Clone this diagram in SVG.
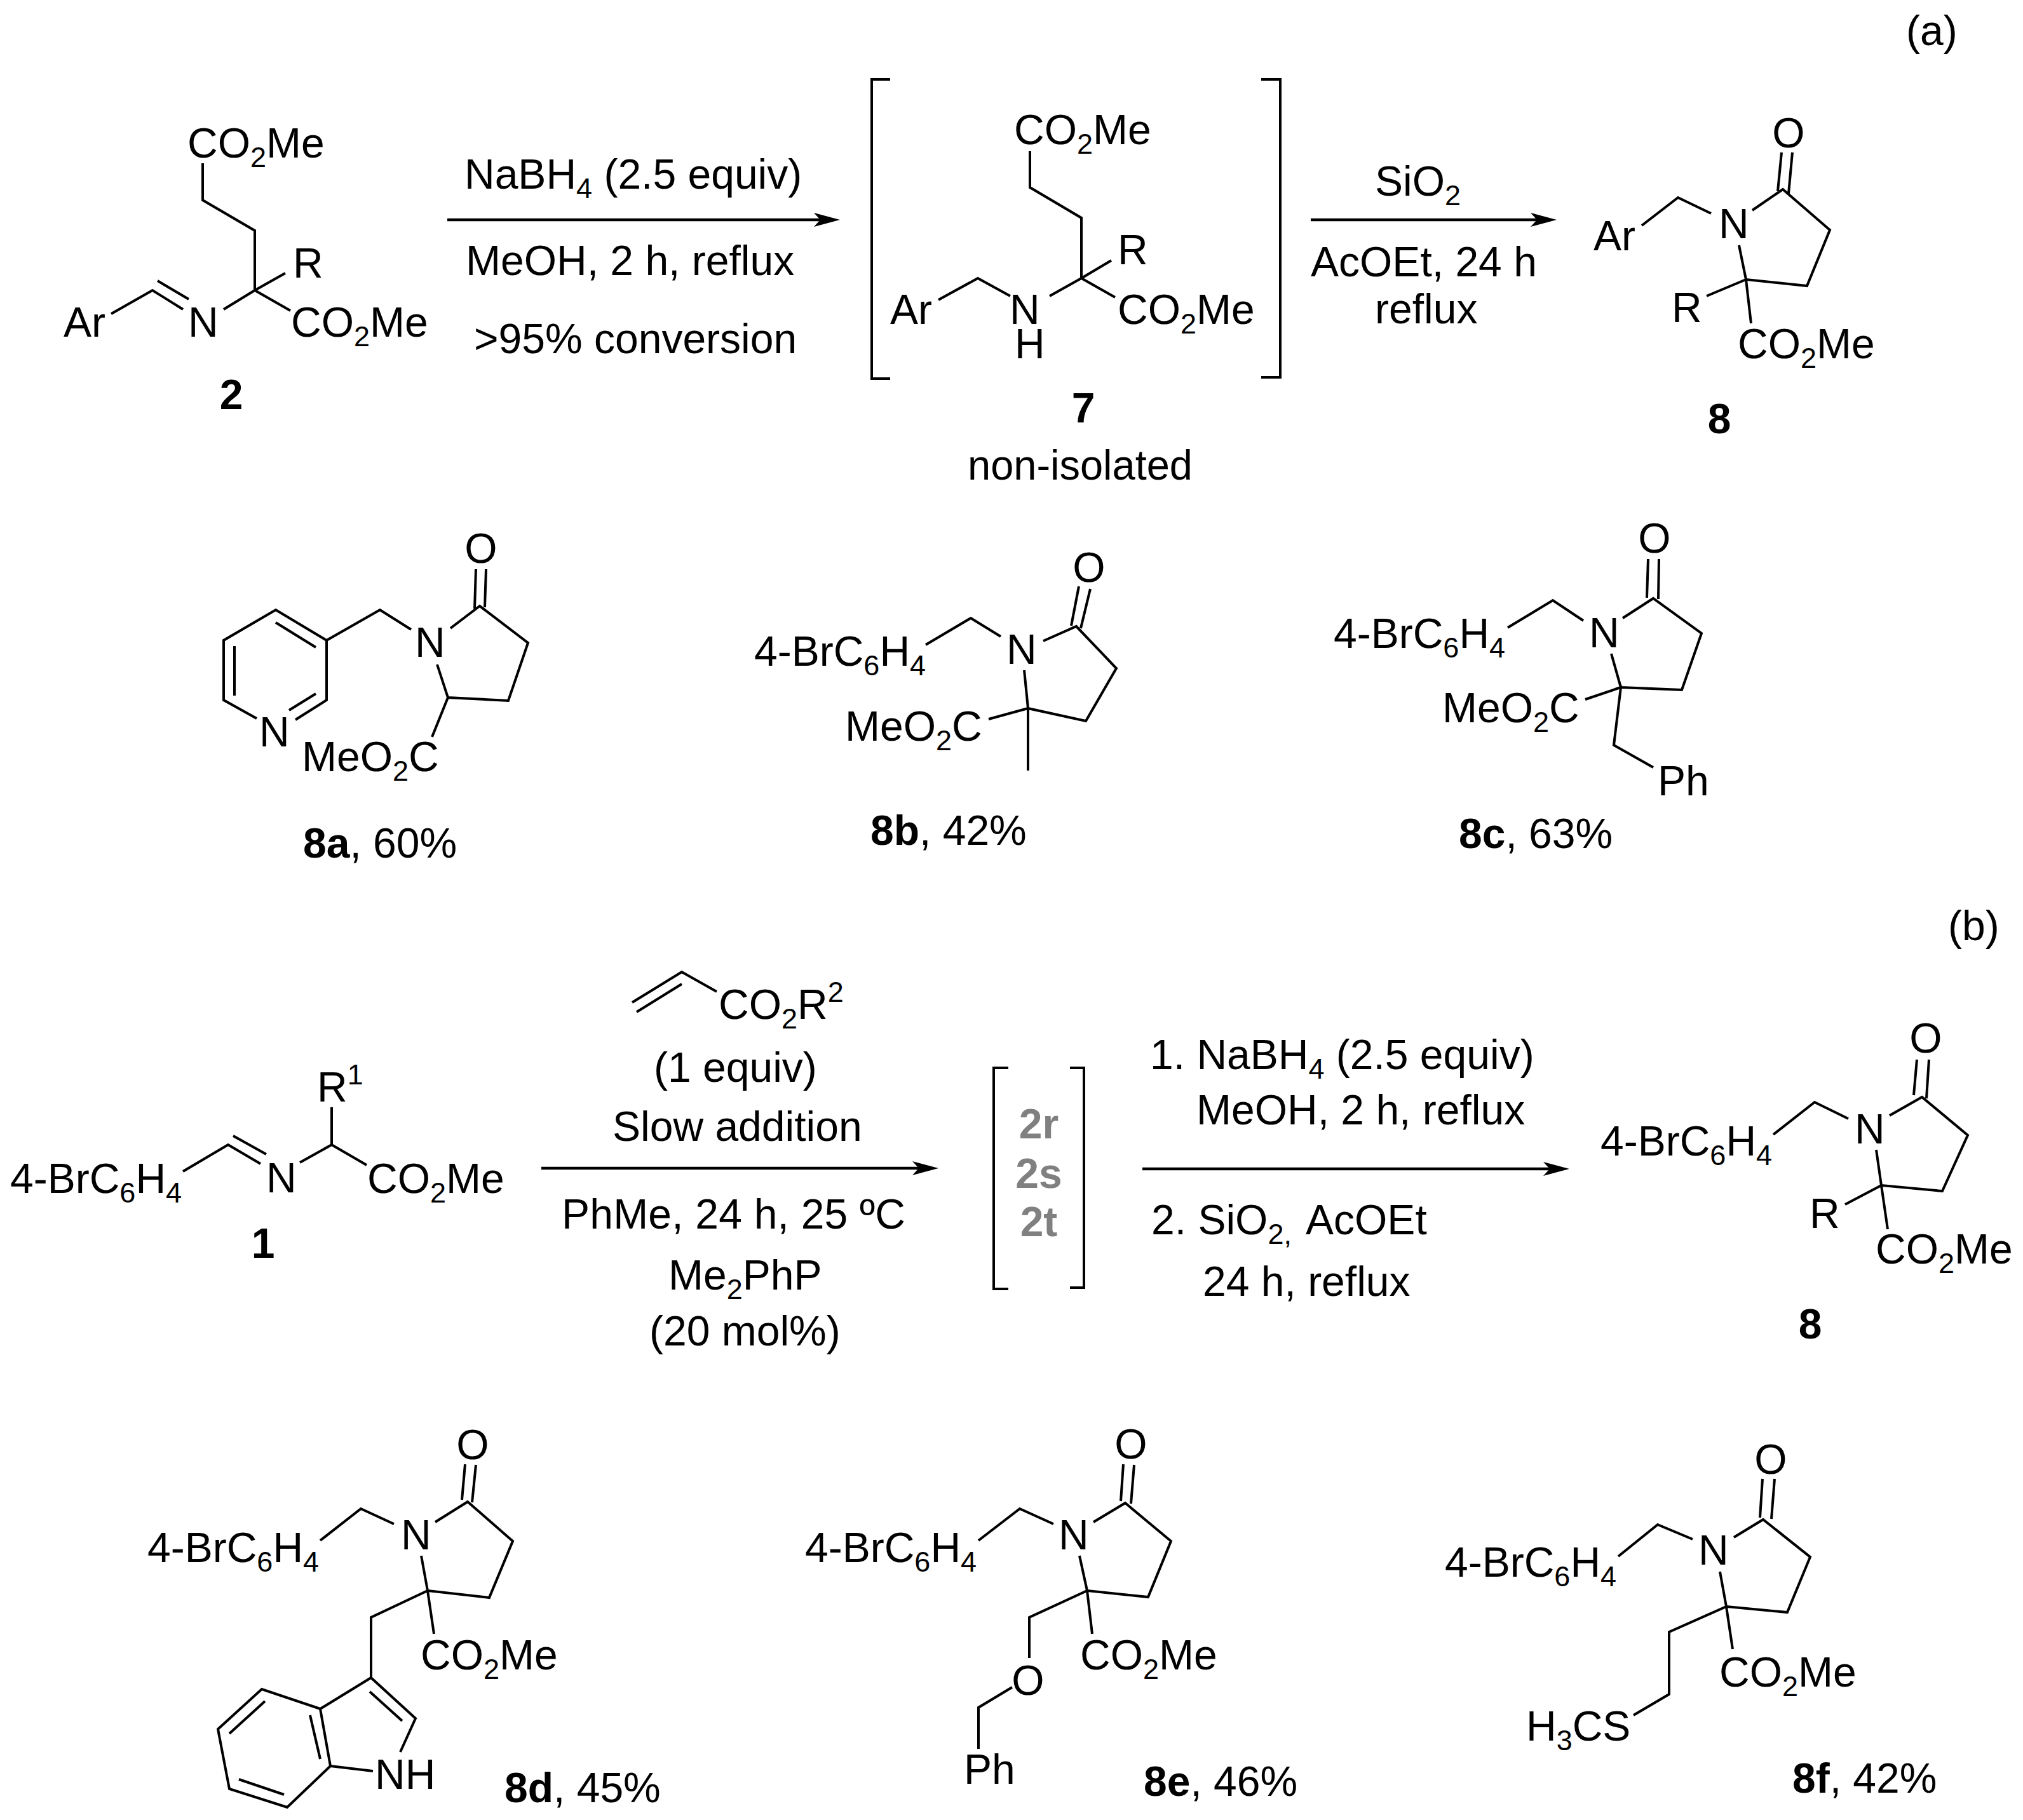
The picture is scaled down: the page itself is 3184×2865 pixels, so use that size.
<svg xmlns="http://www.w3.org/2000/svg" width="3184" height="2865" viewBox="0 0 3184 2865">
<style>
text{font-family:"Liberation Sans",Arial,sans-serif;font-size:66px;fill:#000}
.b{fill:none;stroke:#000;stroke-width:4;stroke-linejoin:miter}
.a{fill:none;stroke:#000;stroke-width:4.5}
.sub{font-size:45px;baseline-shift:-15px}
.sup{font-size:45px;baseline-shift:27px}
.bd{font-weight:bold}
.g{font-weight:bold;fill:#808080}
.m{text-anchor:middle}
</style>
<defs>
<marker id="ah" markerUnits="userSpaceOnUse" markerWidth="44" markerHeight="26" refX="31" refY="13" orient="auto"><path d="M0,2 L41,13 L0,24 L10,13 Z" fill="#000"/></marker>
</defs>
<rect width="3184" height="2865" fill="#fff"/>

<g id="connectors">
<path class="a" marker-end="url(#ah)" d="M704,346H1312"/>
<path class="a" marker-end="url(#ah)" d="M2063,346H2440"/>
<path class="a" marker-end="url(#ah)" d="M852,1839H1467"/>
<path class="a" marker-end="url(#ah)" d="M1798,1840H2460"/>
</g>

<g id="label-a"><text x="3000" y="71">(a)</text></g>
<g id="label-b"><text x="3066" y="1480">(b)</text></g>

<g id="cond-a1">
<text x="731" y="297">NaBH<tspan class="sub">4</tspan> (2.5 equiv)</text>
<text x="733" y="433">MeOH, 2 h, reflux</text>
<text x="746" y="556">&gt;95% conversion</text>
</g>
<g id="cond-a2">
<text x="2164" y="308">SiO<tspan class="sub">2</tspan></text>
<text x="2063" y="435">AcOEt, 24 h</text>
<text x="2164" y="509">reflux</text>
</g>

<g id="compound-2">
<path class="b" d="M319,257V315L401,363V457M401,457L449,430M401,457L457,489M401,457L352,487M175,494L240,457L288,487M248,442L297,471"/>
<text x="295" y="248">CO<tspan class="sub">2</tspan>Me</text>
<text x="461" y="437">R</text>
<text x="100" y="530">Ar</text>
<text x="296" y="530">N</text>
<text x="458" y="530">CO<tspan class="sub">2</tspan>Me</text>
<text class="bd m" x="364" y="644">2</text>
</g>

<g id="compound-7">
<path class="b" d="M1401,125H1372V596H1401M1985,125H2015V594H1985"/>
<path class="b" d="M1621,238V295L1702,343V438M1702,438L1749,410M1702,438L1755,468M1702,438L1652,466M1477,472L1539,438L1590,466"/>
<text x="1596" y="227">CO<tspan class="sub">2</tspan>Me</text>
<text x="1759" y="416">R</text>
<text x="1759" y="510">CO<tspan class="sub">2</tspan>Me</text>
<text x="1401" y="510">Ar</text>
<text x="1589" y="510">N</text>
<text x="1597" y="564">H</text>
<text class="bd m" x="1705" y="665">7</text>
<text x="1523" y="755" textLength="354" lengthAdjust="spacingAndGlyphs">non-isolated</text>
</g>

<g id="compound-8-a">
<path class="b" d="M2758,331L2806,298L2880,362L2844,450L2748,440L2737,386M2804,240L2798,301M2821,240L2815,305M2748,440L2686,466M2748,440L2756,509M2693,336L2641,311L2584,355"/>
<text class="m" x="2815" y="232">O</text>
<text x="2705" y="375">N</text>
<text x="2508" y="394">Ar</text>
<text x="2631" y="507">R</text>
<text x="2735" y="564">CO<tspan class="sub">2</tspan>Me</text>
<text class="bd m" x="2706" y="682">8</text>
</g>

<g id="compound-8a">
<path class="b" d="M709,989L755,954L831,1012L800,1103L705,1098L688,1046M749,896L747,958M765,896L763,956M705,1098L680,1160M647,991L598,960L514,1008M514,1008L434,960L352,1008V1102L404,1131M514,1008V1102L465,1133M434,980L497,1019M369,1017V1095M497,1092L455,1118"/>
<text class="m" x="757" y="886">O</text>
<text x="653" y="1034">N</text>
<text x="408" y="1175">N</text>
<text x="475" y="1214">MeO<tspan class="sub">2</tspan>C</text>
<text x="477" y="1350"><tspan class="bd">8a</tspan>, 60%</text>
</g>

<g id="compound-8b">
<path class="b" d="M1457,1015L1528,973L1575,1002M1642,1009L1694,986L1757,1052L1709,1135L1618,1115L1612,1055M1698,923L1686,985M1716,927L1701,989M1618,1115V1213M1618,1115L1556,1132"/>
<text x="1187" y="1048">4-BrC<tspan class="sub">6</tspan>H<tspan class="sub">4</tspan></text>
<text x="1584" y="1045">N</text>
<text class="m" x="1714" y="916">O</text>
<text x="1330" y="1166">MeO<tspan class="sub">2</tspan>C</text>
<text x="1370" y="1330"><tspan class="bd">8b</tspan>, 42%</text>
</g>

<g id="compound-8c">
<path class="b" d="M2373,988L2444,945L2492,977M2554,973L2602,942L2678,997L2647,1086L2551,1082L2536,1029M2594,880L2592,941M2611,880L2610,943M2495,1101L2551,1082L2540,1173L2602,1208"/>
<text x="2099" y="1020">4-BrC<tspan class="sub">6</tspan>H<tspan class="sub">4</tspan></text>
<text x="2501" y="1019">N</text>
<text class="m" x="2604" y="870">O</text>
<text x="2270" y="1137">MeO<tspan class="sub">2</tspan>C</text>
<text x="2609" y="1252">Ph</text>
<text x="2296" y="1335"><tspan class="bd">8c</tspan>, 63%</text>
</g>

<g id="compound-1">
<path class="b" d="M288,1844L359,1802L410,1832M367,1788L419,1817M472,1830L522,1802L577,1834M522,1802V1743"/>
<text x="16" y="1878">4-BrC<tspan class="sub">6</tspan>H<tspan class="sub">4</tspan></text>
<text x="419" y="1877">N</text>
<text x="499" y="1734">R<tspan class="sup">1</tspan></text>
<text x="578" y="1878">CO<tspan class="sub">2</tspan>Me</text>
<text class="bd m" x="414" y="1980">1</text>
</g>

<g id="cond-b1">
<path class="b" d="M995,1578L1073,1530L1128,1561M1002,1593L1073,1549"/>
<text x="1131" y="1604">CO<tspan class="sub">2</tspan>R<tspan class="sup">2</tspan></text>
<text x="1029" y="1703">(1 equiv)</text>
<text x="964" y="1796">Slow addition</text>
<text x="884" y="1934" textLength="541">PhMe, 24 h, 25 ºC</text>
<text x="1052" y="2030">Me<tspan class="sub">2</tspan>PhP</text>
<text x="1022" y="2118">(20 mol%)</text>
</g>

<g id="intermediates">
<path class="b" d="M1587,1681H1564V2029H1587M1684,1681H1706V2027H1684"/>
<text class="g m" x="1635" y="1792">2r</text>
<text class="g m" x="1635" y="1870">2s</text>
<text class="g m" x="1635" y="1946">2t</text>
</g>

<g id="cond-b2">
<text x="1810" y="1683">1. NaBH<tspan class="sub">4</tspan> (2.5 equiv)</text>
<text x="1883" y="1770">MeOH, 2 h, reflux</text>
<text x="1812" y="1943">2. SiO<tspan class="sub">2,</tspan><tspan x="2055">AcOEt</tspan></text>
<text x="1893" y="2040">24 h, reflux</text>
</g>

<g id="compound-8-b">
<path class="b" d="M2791,1786L2856,1735L2909,1761M2974,1756L3025,1727L3097,1787L3057,1875L2961,1866L2953,1810M3017,1668L3012,1724M3036,1668L3032,1729M2961,1866L2904,1896M2961,1866L2971,1935"/>
<text x="2519" y="1819">4-BrC<tspan class="sub">6</tspan>H<tspan class="sub">4</tspan></text>
<text x="2919" y="1800">N</text>
<text class="m" x="3031" y="1657">O</text>
<text x="2848" y="1933">R</text>
<text x="2952" y="1989">CO<tspan class="sub">2</tspan>Me</text>
<text class="bd m" x="2849" y="2107">8</text>
</g>

<g id="compound-8d">
<path class="b" d="M504,2425L568,2375L620,2399M685,2396L736,2364L807,2426L770,2515L673,2504L663,2449M732,2305L727,2361M749,2306L743,2365M673,2504L683,2572M673,2504L584,2546V2641L654,2705L630,2758M584,2641L504,2690L412,2659L343,2722L361,2816L452,2845L520,2780L504,2690M520,2780L587,2788M582,2663L633,2709M417,2678L361,2729M376,2801L447,2825M488,2700L504,2769"/>
<text x="232" y="2459">4-BrC<tspan class="sub">6</tspan>H<tspan class="sub">4</tspan></text>
<text x="631" y="2439">N</text>
<text class="m" x="744" y="2297">O</text>
<text x="662" y="2628">CO<tspan class="sub">2</tspan>Me</text>
<text x="590" y="2816">NH</text>
<text x="794" y="2837"><tspan class="bd">8d</tspan>, 45%</text>
</g>

<g id="compound-8e">
<path class="b" d="M1540,2425L1605,2375L1658,2399M1721,2396L1771,2366L1843,2426L1807,2514L1711,2504L1699,2449M1768,2305L1764,2363M1785,2306L1780,2367M1711,2504L1719,2572M1711,2504L1620,2546V2610M1593,2656L1540,2688V2753"/>
<text x="1267" y="2459">4-BrC<tspan class="sub">6</tspan>H<tspan class="sub">4</tspan></text>
<text x="1666" y="2439">N</text>
<text class="m" x="1780" y="2296">O</text>
<text x="1700" y="2628">CO<tspan class="sub">2</tspan>Me</text>
<text class="m" x="1618" y="2668">O</text>
<text x="1517" y="2808">Ph</text>
<text x="1800" y="2827"><tspan class="bd">8e</tspan>, 46%</text>
</g>

<g id="compound-8f">
<path class="b" d="M2547,2450L2609,2400L2664,2423M2729,2420L2775,2392L2849,2451L2813,2538L2717,2529L2707,2474M2774,2328L2770,2389M2793,2328L2788,2391M2717,2529L2727,2596M2717,2529L2627,2569V2667L2571,2700"/>
<text x="2274" y="2482">4-BrC<tspan class="sub">6</tspan>H<tspan class="sub">4</tspan></text>
<text x="2673" y="2463">N</text>
<text class="m" x="2787" y="2320">O</text>
<text x="2706" y="2655">CO<tspan class="sub">2</tspan>Me</text>
<text x="2402" y="2740">H<tspan class="sub">3</tspan>CS</text>
<text x="2821" y="2822"><tspan class="bd">8f</tspan>, 42%</text>
</g>
</svg>
